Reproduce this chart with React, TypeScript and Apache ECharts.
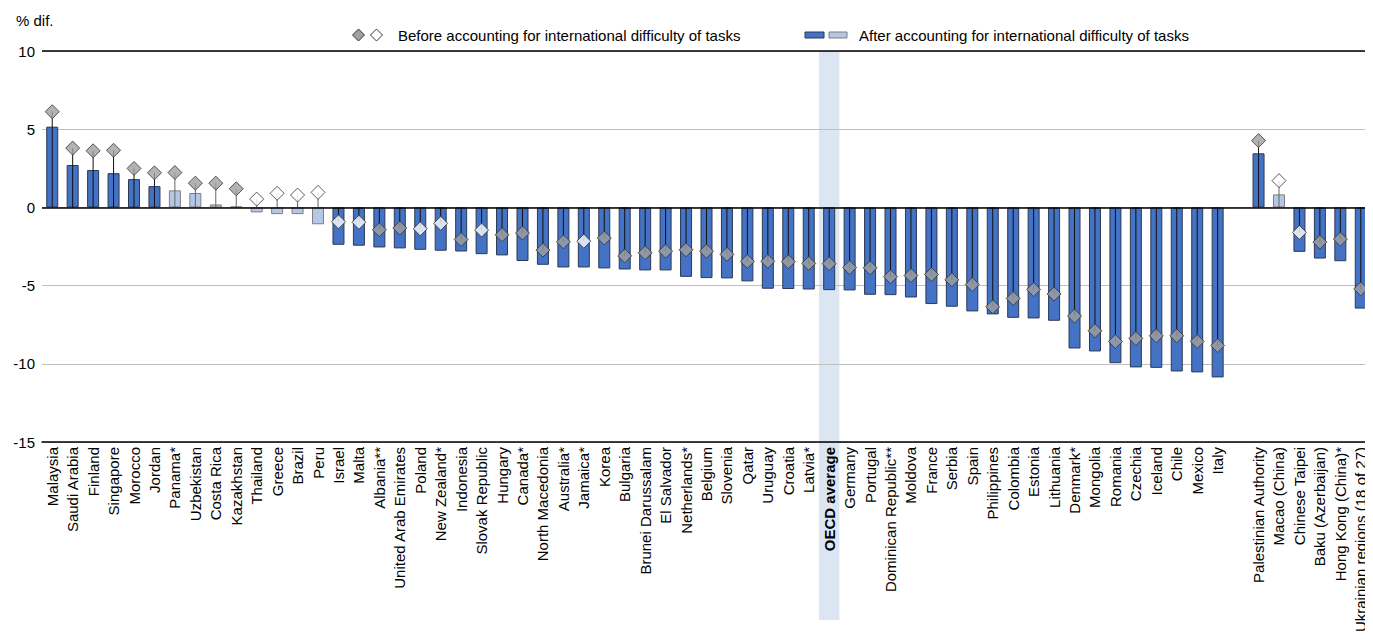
import React, { useEffect, useRef } from "react";
import * as echarts from "echarts";

const categories: string[] = [
  "Malaysia", "Saudi Arabia", "Finland", "Singapore", "Morocco", "Jordan", "Panama*", "Uzbekistan",
  "Costa Rica", "Kazakhstan", "Thailand", "Greece", "Brazil", "Peru", "Israel", "Malta", "Albania**",
  "United Arab Emirates", "Poland", "New Zealand*", "Indonesia", "Slovak Republic", "Hungary", "Canada*",
  "North Macedonia", "Australia*", "Jamaica*", "Korea", "Bulgaria", "Brunei Darussalam", "El Salvador",
  "Netherlands*", "Belgium", "Slovenia", "Qatar", "Uruguay", "Croatia", "Latvia*", "OECD average",
  "Germany", "Portugal", "Dominican Republic**", "Moldova", "France", "Serbia", "Spain", "Philippines",
  "Colombia", "Estonia", "Lithuania", "Denmark*", "Mongolia", "Romania", "Czechia", "Iceland", "Chile",
  "Mexico", "Italy", "", "Palestinian Authority", "Macao (China)", "Chinese Taipei", "Baku (Azerbaijan)",
  "Hong Kong (China)*", "Ukrainian regions (18 of 27)",
];

// After accounting for international difficulty of tasks (bars)
const afterValues: (number | null)[] = [
  5.16, 2.71, 2.39, 2.19, 1.81, 1.36, 1.09, 0.92, 0.19, 0.06, -0.32, -0.43, -0.43, -1.08, -2.39, -2.45,
  -2.56, -2.62, -2.71, -2.77, -2.82, -2.99, -3.07, -3.43, -3.67, -3.84, -3.84, -3.9, -3.97, -4.03, -4.03,
  -4.44, -4.52, -4.54, -4.73, -5.2, -5.22, -5.25, -5.29, -5.31, -5.59, -5.61, -5.76, -6.18, -6.35, -6.65,
  -6.84, -7.06, -7.1, -7.25, -9.02, -9.21, -9.96, -10.23, -10.26, -10.49, -10.55, -10.87, null, 3.46, 0.83,
  -2.84, -3.27, -3.44, -6.47,
];

// Before accounting for international difficulty of tasks (diamonds)
const beforeValues: (number | null)[] = [
  6.12, 3.79, 3.62, 3.65, 2.49, 2.21, 2.23, 1.55, 1.55, 1.19, 0.53, 0.9, 0.79, 0.96, -0.92, -0.95, -1.43,
  -1.32, -1.37, -1.02, -2.05, -1.45, -1.75, -1.64, -2.73, -2.2, -2.16, -1.96, -3.1, -2.9, -2.8, -2.71,
  -2.8, -3.0, -3.45, -3.45, -3.47, -3.58, -3.6, -3.84, -3.86, -4.43, -4.35, -4.29, -4.63, -4.93, -6.35,
  -5.82, -5.25, -5.54, -6.95, -7.89, -8.57, -8.38, -8.21, -8.21, -8.57, -8.83, null, 4.27, 1.71, -1.6,
  -2.22, -2.03, -5.21,
];

// 1 = significant (dark), 0 = not significant (light / white)
const afterSignificant: number[] = [
  1, 1, 1, 1, 1, 1, 0, 0, 0, 0, 0, 0, 0, 0, 1, 1, 1, 1, 1, 1, 1, 1, 1, 1, 1, 1, 1, 1, 1, 1, 1, 1, 1, 1,
  1, 1, 1, 1, 1, 1, 1, 1, 1, 1, 1, 1, 1, 1, 1, 1, 1, 1, 1, 1, 1, 1, 1, 1, 0, 1, 0, 1, 1, 1, 1,
];
const beforeSignificant: number[] = [
  1, 1, 1, 1, 1, 1, 1, 1, 1, 1, 0, 0, 0, 0, 0, 0, 1, 1, 0, 0, 1, 0, 1, 1, 1, 1, 0, 1, 1, 1, 1, 1, 1, 1,
  1, 1, 1, 1, 1, 1, 1, 1, 1, 1, 1, 1, 1, 1, 1, 1, 1, 1, 1, 1, 1, 1, 1, 1, 0, 1, 0, 0, 1, 1, 1,
];

const yTicks = { min: -15, max: 10, interval: 5 };

const legendBefore = "Before accounting for international difficulty of tasks";
const legendAfter = "After accounting for international difficulty of tasks";
const yAxisTitle = "% dif.";
const highlightCategory = "OECD average";

const FONT = "'Liberation Sans', Arial, sans-serif";
const FS = 15;
const DARK = "#4472C4";
const LIGHT = "#B4C7E7";

export default function App() {
  const ref = useRef<HTMLDivElement>(null);
  useEffect(() => {
    if (!ref.current) return;
    const chart = echarts.init(ref.current, undefined, { renderer: "svg" });
    const barData = afterValues.map((v, i) => ({
      value: v,
      itemStyle: afterSignificant[i]
        ? { color: DARK, borderColor: "#2b3a55", borderWidth: 1 }
        : { color: LIGHT, borderColor: "#7f7f7f", borderWidth: 1 },
    }));
    const diamondData = beforeValues.map((v, i) => ({
      value: v,
      itemStyle: {
        color: beforeSignificant[i] ? "#A0A0A0" : "#FFFFFF",
        borderColor: "#333333",
        borderWidth: 1,
      },
    }));
    const lineData = beforeValues.map((v, i) => [i, v, afterSignificant[i]]);

    chart.setOption({
      animation: false,
      grid: { left: 42, right: 2, top: 51, bottom: 199, containLabel: false },
      title: {
        text: yAxisTitle,
        left: 11,
        top: 8,
        textStyle: { fontSize: FS, fontWeight: "normal", color: "#000", fontFamily: FONT },
      },
      xAxis: {
        type: "category",
        data: categories,
        axisLine: { onZero: false, lineStyle: { color: "#000", width: 1.5 } },
        axisTick: { show: false },
        axisLabel: {
          interval: 0,
          rotate: 90,
          margin: 5,
          color: "#000",
          fontSize: FS,
          fontFamily: FONT,
          formatter: (v: string) => (v === highlightCategory ? "{b|" + v + "}" : v),
          rich: { b: { fontWeight: "bold", fontSize: FS, fontFamily: FONT, color: "#000" } },
        },
      },
      yAxis: {
        type: "value",
        min: yTicks.min,
        max: yTicks.max,
        interval: yTicks.interval,
        axisLine: { show: false },
        axisTick: { show: false },
        axisLabel: { color: "#000", fontSize: FS, fontFamily: FONT, margin: 7 },
        splitLine: { lineStyle: { color: "#c0c0c0", width: 1 } },
      },
      series: [
        {
          type: "bar",
          data: barData,
          barWidth: 12,
          z: 2,
          markLine: {
            silent: true,
            symbol: "none",
            label: { show: false },
            lineStyle: { color: "#000", width: 1.5, type: "solid" },
            data: [{ yAxis: 0 }, { yAxis: yTicks.max }],
          },
        },
        {
          type: "custom",
          z: 3,
          data: lineData,
          renderItem: (params: any, api: any) => {
            const val = api.value(1);
            if (val === null || val === undefined || isNaN(val)) return null;
            const p0 = api.coord([api.value(0), 0]);
            const p1 = api.coord([api.value(0), val]);
            return {
              type: "line",
              shape: { x1: p0[0], y1: p0[1], x2: p1[0], y2: p1[1] },
              style: { stroke: api.value(2) ? "#111" : "#666", lineWidth: 1 },
            };
          },
        },
        {
          type: "scatter",
          symbol: "diamond",
          symbolSize: 14,
          data: diamondData,
          z: 4,
        },
      ],
    });

    const px = chart.convertToPixel({ xAxisIndex: 0 }, highlightCategory) as number;
    const slot = (chart.getWidth() - 44) / categories.length;
    chart.setOption({
      graphic: [
        {
          type: "rect",
          z: -10,
          silent: true,
          shape: { x: px - slot / 2, y: 51, width: slot, height: 569 },
          style: { fill: "#dce6f2" },
        },
        {
          type: "polygon",
          shape: { points: [[358.5, 29], [364.5, 35], [358.5, 41], [352.5, 35]] },
          style: { fill: "#A0A0A0", stroke: "#333", lineWidth: 1 },
        },
        {
          type: "polygon",
          shape: { points: [[376.5, 29], [382.5, 35], [376.5, 41], [370.5, 35]] },
          style: { fill: "#fff", stroke: "#333", lineWidth: 1 },
        },
        {
          type: "text",
          x: 398,
          y: 35,
          style: { text: legendBefore, fill: "#000", fontSize: FS, fontFamily: FONT, verticalAlign: "middle" },
        },
        {
          type: "rect",
          shape: { x: 805, y: 32, width: 19, height: 6 },
          style: { fill: DARK, stroke: "#2b3a55", lineWidth: 1 },
        },
        {
          type: "rect",
          shape: { x: 829, y: 32, width: 18, height: 6 },
          style: { fill: LIGHT, stroke: "#7f7f7f", lineWidth: 1 },
        },
        {
          type: "text",
          x: 859,
          y: 35,
          style: { text: legendAfter, fill: "#000", fontSize: FS, fontFamily: FONT, verticalAlign: "middle" },
        },
      ],
    });

    return () => chart.dispose();
  }, []);
  return <div ref={ref} style={{ width: 1373, height: 641, margin: -8 }} />;
}
